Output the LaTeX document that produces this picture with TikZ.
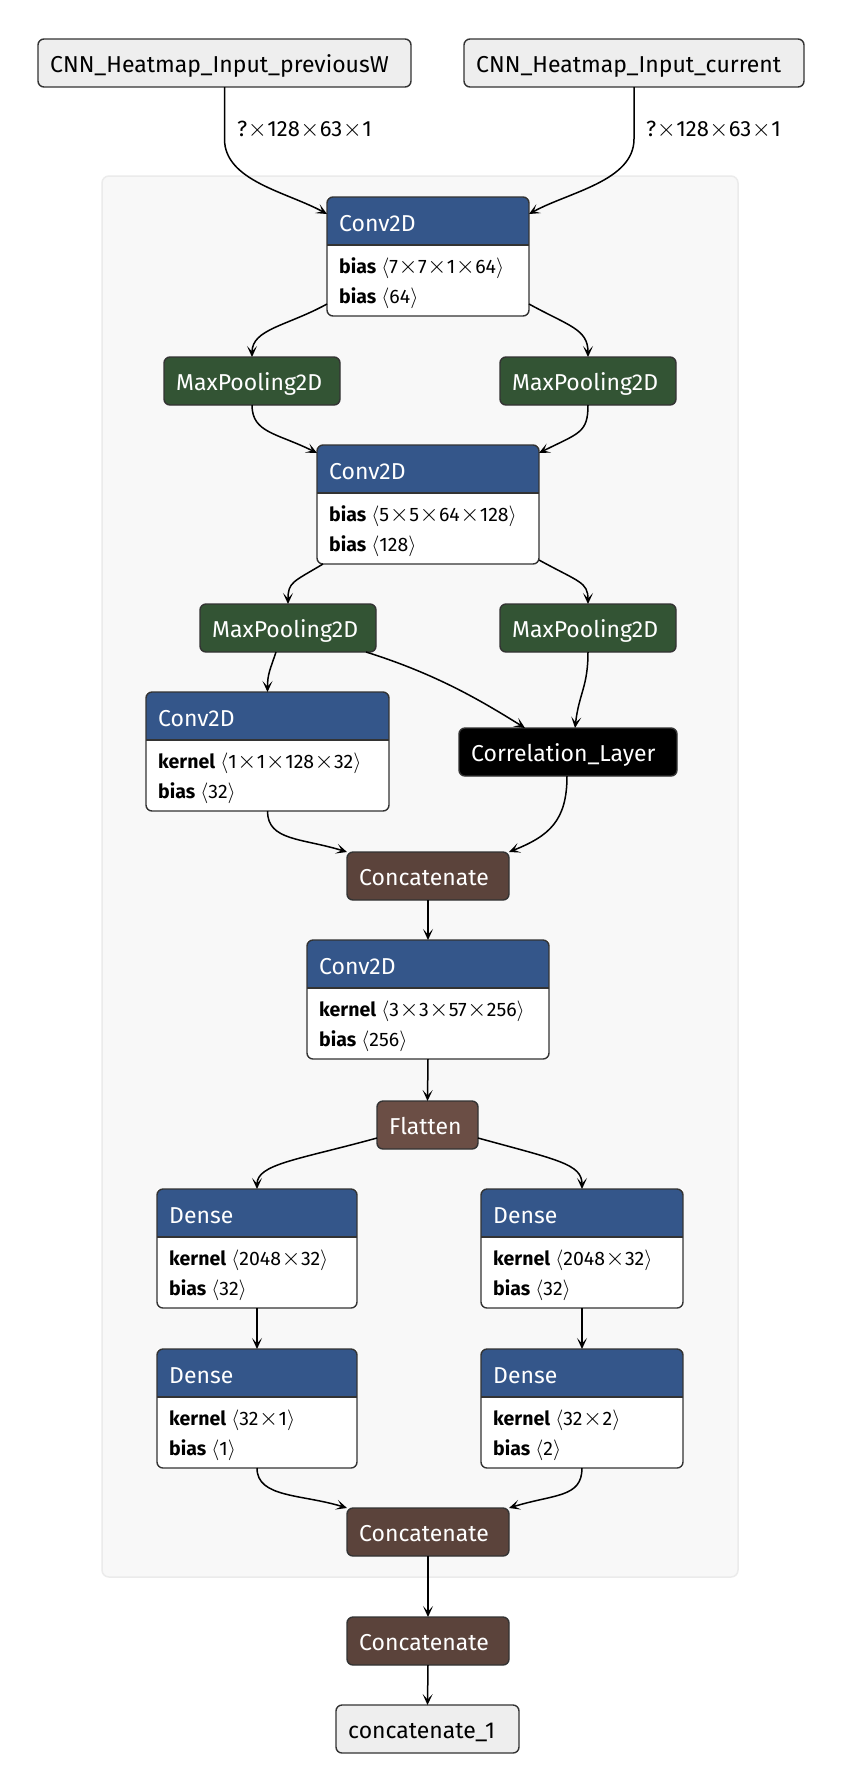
\documentclass[tikz,border=0pt]{standalone}
\usepackage{fontspec}
\usepackage{graphicx}
\setmainfont{Fira Sans}
\usetikzlibrary{arrows.meta}

\definecolor{convblue}{HTML}{34568A}
\definecolor{poolgreen}{HTML}{335434}
\definecolor{catbrown}{HTML}{5B433B}
\definecolor{flatbrown}{HTML}{6B4E45}
\definecolor{iogrey}{HTML}{EEEEEE}
\definecolor{outline}{HTML}{333333}
\definecolor{groupfill}{HTML}{F8F8F8}
\definecolor{groupline}{HTML}{EBEBEB}

% multiplication sign without binary-operator spacing, slightly enlarged
\newcommand\tms{\kern0.5pt\raisebox{-0.5pt}{\scalebox{1.18}{$\times$}}\kern0.5pt}

\tikzset{
  box/.style={rectangle, rounded corners=6pt, draw=outline, line width=1.4pt,
    inner sep=0pt, outer sep=0pt, minimum height=48pt},
  iobox/.style={box, fill=iogrey},
  poolbox/.style={box, fill=poolgreen},
  corrbox/.style={box, fill=black},
  catbox/.style={box, fill=catbrown},
  flatbox/.style={box, fill=flatbrown},
  layer/.style={rectangle, fill=white, inner sep=0pt, outer sep=0pt, minimum height=119pt},
  groupbox/.style={rectangle, rounded corners=7pt, draw=groupline, line width=1.5pt,
    fill=groupfill, inner sep=0pt, outer sep=0pt},
  lbl/.style={anchor=base west, inner sep=0pt, font=\fontsize{23}{27}\selectfont},
  darklbl/.style={lbl, text=black},
  lightlbl/.style={lbl, text=white},
  rowtext/.style={anchor=base west, inner sep=0pt, font=\fontsize{19.5}{23}\selectfont},
  shapelbl/.style={anchor=base west, inner sep=0pt, font=\fontsize{22}{26}\selectfont},
  conn/.style={line width=1.5pt, draw=black,
    -{Stealth[length=11pt, width=10pt, inset=5.5pt]}},
}

% plain box: style, name, left, top, width, text, text style
\newcommand\plainbox[7]{%
  \node[#1, minimum width=#5pt, anchor=north west] (#2) at (#3,#4) {};
  \node[#7] (#2-t) at ([xshift=12pt,yshift=-9.5pt]#2.west) {#6};
}

% layer box with a blue title bar and two weight rows:
% name, left, top, width, title, key 1, value 1, key 2, value 2
\newcommand\layerbox[9]{%
  \node[layer, minimum width=#4pt, anchor=north west] (#1) at (#2,#3) {};
  \begin{scope}
    \clip[rounded corners=6pt] (#1.north west) rectangle (#1.south east);
    \fill[convblue] (#1.north west) rectangle ([yshift=-48pt]#1.north east);
  \end{scope}
  \draw[outline, line width=1.4pt] ([yshift=-48pt]#1.north west) -- ([yshift=-48pt]#1.north east);
  \draw[outline, line width=1.4pt, rounded corners=6pt] (#1.north west) rectangle (#1.south east);
  \node[lightlbl] (#1-title) at ([xshift=12pt,yshift=-34pt]#1.north west) {#5};
  \node[rowtext] (#1-r1) at ([xshift=12pt,yshift=-76pt]#1.north west)
    {\textbf{#6}\ $\langle$#7$\rangle$};
  \node[rowtext] (#1-r2) at ([xshift=12pt,yshift=-106pt]#1.north west)
    {\textbf{#8}\ $\langle$#9$\rangle$};
}

\begin{document}
\begin{tikzpicture}[x=1pt, y=-1pt]
  \useasboundingbox (0,0) rectangle (844,1792);
  \fill[white] (0,0) rectangle (844,1792);

  % model group
  \node[groupbox, minimum width=636pt, minimum height=1401pt, anchor=north west] (grp) at (102,176) {};

  % inputs
  \plainbox{iobox}{in1}{38}{39}{373}{CNN\_Heatmap\_Input\_previousW}{darklbl}
  \plainbox{iobox}{in2}{464}{39}{340}{CNN\_Heatmap\_Input\_current}{darklbl}

  % layers
  \layerbox{conv1}{327}{197}{202}{Conv2D}{bias}{7\tms7\tms1\tms64}{bias}{64}
  \plainbox{poolbox}{mpl1}{164}{357}{176}{MaxPooling2D}{lightlbl}
  \plainbox{poolbox}{mpr1}{500}{357}{176}{MaxPooling2D}{lightlbl}
  \layerbox{conv2}{317}{445}{222}{Conv2D}{bias}{5\tms5\tms64\tms128}{bias}{128}
  \plainbox{poolbox}{mpl2}{200}{604}{176}{MaxPooling2D}{lightlbl}
  \plainbox{poolbox}{mpr2}{500}{604}{176}{MaxPooling2D}{lightlbl}
  \layerbox{conv3}{146}{692}{243}{Conv2D}{kernel}{1\tms1\tms128\tms32}{bias}{32}
  \plainbox{corrbox}{corr}{459}{728}{218}{Correlation\_Layer}{lightlbl}
  \plainbox{catbox}{cat1}{347}{852}{162}{Concatenate}{lightlbl}
  \layerbox{conv4}{307}{940}{242}{Conv2D}{kernel}{3\tms3\tms57\tms256}{bias}{256}
  \plainbox{flatbox}{flat}{377}{1101}{101}{Flatten}{lightlbl}
  \layerbox{dl1}{157}{1189}{200}{Dense}{kernel}{2048\tms32}{bias}{32}
  \layerbox{dr1}{481}{1189}{202}{Dense}{kernel}{2048\tms32}{bias}{32}
  \layerbox{dl2}{157}{1349}{200}{Dense}{kernel}{32\tms1}{bias}{1}
  \layerbox{dr2}{481}{1349}{202}{Dense}{kernel}{32\tms2}{bias}{2}
  \plainbox{catbox}{cat2}{347}{1508}{162}{Concatenate}{lightlbl}
  \plainbox{catbox}{cat3}{347}{1617}{162}{Concatenate}{lightlbl}
  \plainbox{iobox}{out}{336}{1705}{183}{concatenate\_1}{darklbl}

  % shape labels on the input edges
  \node[shapelbl] (shp1) at (237,136) {?\tms128\tms63\tms1};
  \node[shapelbl] (shp2) at (646,136) {?\tms128\tms63\tms1};

  % connectors
  \draw[conn] (in1.south) -- ++(0,52) .. controls +(0,42) and +(-40,-22) .. ([yshift=-17pt]conv1.north west);
  \draw[conn] (in2.south) -- ++(0,52) .. controls +(0,42) and +(40,-22) .. ([yshift=-17pt]conv1.north east);
  \draw[conn] ([yshift=12pt]conv1.south west) .. controls +(-40,22) and +(0,-28) .. (mpl1.north);
  \draw[conn] ([yshift=12pt]conv1.south east) .. controls +(40,22) and +(0,-28) .. (mpr1.north);
  \draw[conn] (mpl1.south) .. controls +(0,28) and +(-40,-20) .. ([yshift=-8pt]conv2.north west);
  \draw[conn] (mpr1.south) .. controls +(0,28) and +(40,-20) .. ([yshift=-8pt]conv2.north east);
  \draw[conn] ([xshift=6pt]conv2.south west) .. controls +(-30,18) and +(0,-22) .. (mpl2.north);
  \draw[conn] ([yshift=4pt]conv2.south east) .. controls +(40,22) and +(0,-22) .. (mpr2.north);
  \draw[conn] ([xshift=-12pt]mpl2.south) .. controls +(-6,18) and +(0,-18) .. (conv3.north);
  \draw[conn] ([xshift=-10pt]mpl2.south east) .. controls +(70,22) and +(-45,-28) .. ([xshift=-43pt]corr.north);
  \draw[conn] (mpr2.south) .. controls +(0,35) and +(4,-35) .. ([xshift=7pt]corr.north);
  \draw[conn] (conv3.south) .. controls +(0,30) and +(-45,-14) .. (cat1.north west);
  \draw[conn] ([xshift=-1pt]corr.south) .. controls +(0,45) and +(40,-16) .. (cat1.north east);
  \draw[conn] (cat1.south) -- (conv4.north);
  \draw[conn] (conv4.south) -- (flat.north);
  \draw[conn] ([yshift=11pt]flat.south west) .. controls +(-80,22) and +(0,-25) .. (dl1.north);
  \draw[conn] ([yshift=11pt]flat.south east) .. controls +(80,22) and +(0,-25) .. (dr1.north);
  \draw[conn] (dl1.south) -- (dl2.north);
  \draw[conn] (dr1.south) -- (dr2.north);
  \draw[conn] (dl2.south) .. controls +(0,30) and +(-45,-14) .. (cat2.north west);
  \draw[conn] (dr2.south) .. controls +(0,30) and +(45,-14) .. (cat2.north east);
  \draw[conn] (cat2.south) -- (cat3.north);
  \draw[conn] (cat3.south) -- (out.north);
\end{tikzpicture}
\end{document}
